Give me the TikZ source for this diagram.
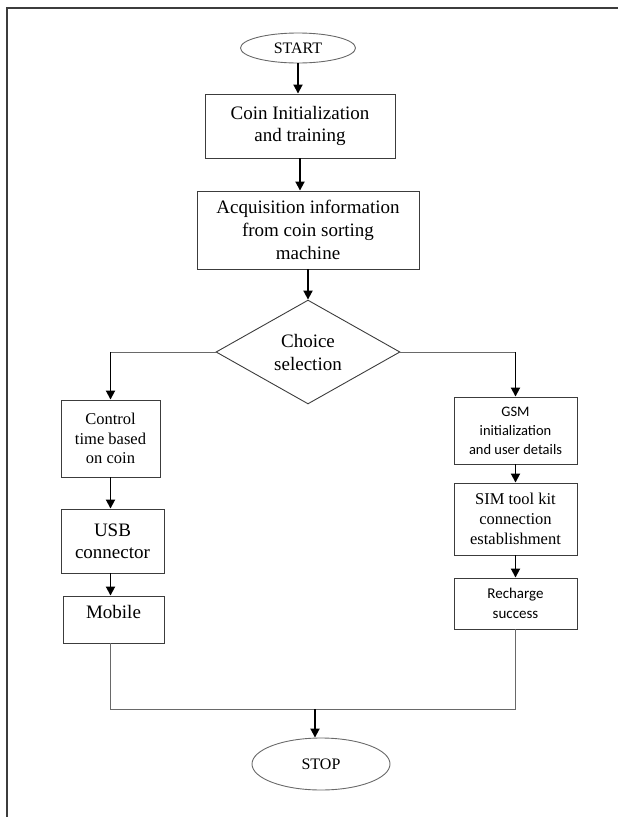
\documentclass[tikz,border=0pt]{standalone}
\usepackage{fontspec}
\setmainfont{Liberation Serif}
\newfontfamily\calibri{Carlito}
\usepackage{tikz}
\usetikzlibrary{arrows.meta,shapes}
\definecolor{framegray}{RGB}{60,60,60}
\definecolor{linegray}{RGB}{105,105,105}

\begin{document}
\begin{tikzpicture}[x=1pt, y=-1pt,
    box/.style={rectangle, draw=framegray, line width=0.9pt, align=center, inner sep=0pt},
    term/.style={ellipse, draw=linegray, line width=0.9pt, inner sep=0pt, font=\fontsize{16}{19}\selectfont},
    arrow/.style={-{Triangle[width=9pt,length=9pt]}, line width=1.8pt},
    line/.style={draw=linegray, line width=1pt}
]
    \useasboundingbox (0,0) rectangle (618,817);
    \draw[line width=1.2pt, framegray] (7,817) -- (7,8) -- (618,8);

    \node[term, minimum width=115pt, minimum height=30pt] (start) at (298,48) {START};
    \node[box, minimum width=190pt, minimum height=64pt, font=\fontsize{19}{22}\selectfont] (init) at (300,126) {Coin Initialization\\and training};
    \node[box, minimum width=222pt, minimum height=78pt, font=\fontsize{19}{23}\selectfont] (acq) at (308,230) {Acquisition information\\from coin sorting\\machine};
    \node[diamond, draw=framegray, line width=0.9pt, minimum width=184pt, minimum height=98pt, inner sep=0pt, align=center, font=\fontsize{19}{23}\selectfont] (choice) at (308,352) {Choice\\selection};

    \node[box, minimum width=99pt, minimum height=77pt, font=\fontsize{16.5}{19.5}\selectfont] (ctrl) at (110.5,438.5) {Control\\time based\\on coin};
    \node[box, minimum width=103pt, minimum height=64pt, font=\fontsize{19}{22}\selectfont] (usb) at (112.5,541) {USB\\connector};
    \node[box, minimum width=101pt, minimum height=47pt, text height=16pt, text depth=19pt, font=\fontsize{19}{22}\selectfont] (mobile) at (113.5,619.5) {Mobile};

    \node[box, minimum width=123pt, minimum height=67pt, font=\calibri\fontsize{14.5}{19}\selectfont] (gsm) at (515.5,430.5) {GSM\\initialization\\and user details};
    \node[box, minimum width=123pt, minimum height=72pt, font=\fontsize{16.5}{20}\selectfont] (sim) at (515.5,519) {SIM tool kit\\connection\\establishment};
    \node[box, minimum width=123pt, minimum height=51pt, font=\calibri\fontsize{15}{20}\selectfont] (rchg) at (515.5,603.5) {Recharge\\success};

    \node[term, minimum width=138pt, minimum height=52pt] (stop) at (321,764) {STOP};

    \coordinate (lcorner) at (choice.west -| ctrl.north);
    \coordinate (rcorner) at (choice.east -| gsm.north);
    \coordinate (join) at (315,709);

    \draw[arrow] (start.south) -- (start.south |- init.north);
    \draw[arrow] (init.south) -- (init.south |- acq.north);
    \draw[arrow] (acq.south) -- (choice.north);
    \draw[line] (choice.west) -- (lcorner);
    \draw[arrow] (lcorner) -- (ctrl.north);
    \draw[line] (choice.east) -- (rcorner);
    \draw[arrow] (rcorner) -- (gsm.north);
    \draw[arrow] (ctrl.south) -- (ctrl.south |- usb.north);
    \draw[arrow] (ctrl.south |- usb.south) -- (ctrl.south |- mobile.north);
    \draw[arrow] (gsm.south) -- (sim.north);
    \draw[arrow] (sim.south) -- (rchg.north);
    \draw[line] (ctrl.south |- mobile.south) |- (rchg.south |- join) -- (rchg.south);
    \draw[arrow] (join) -- (join |- stop.north);
\end{tikzpicture}
\end{document}
